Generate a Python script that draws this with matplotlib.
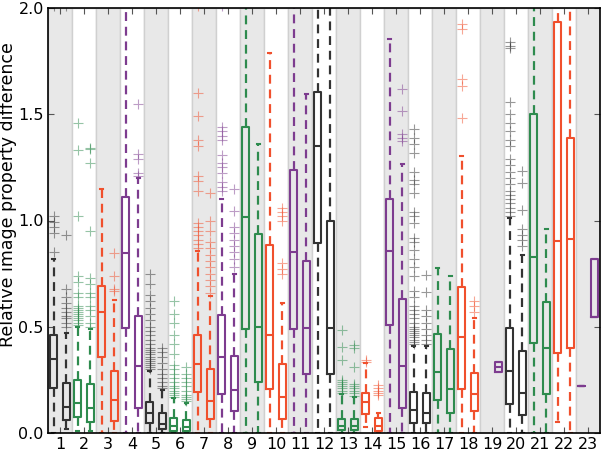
import matplotlib
matplotlib.use('Agg')
import matplotlib.pyplot as plt

# ── data ───────────────────────────────────────────────────────────────────
groups = list(range(1, 24))
group_colors = ['#333333', '#2e8b4e', '#f0502d', '#7d3c8f',
                '#333333', '#2e8b4e', '#f0502d', '#7d3c8f',
                '#2e8b4e', '#f0502d', '#7d3c8f', '#333333',
                '#2e8b4e', '#f0502d', '#7d3c8f', '#333333',
                '#2e8b4e', '#f0502d', '#7d3c8f', '#333333',
                '#2e8b4e', '#f0502d', '#7d3c8f']

# first box of each group (left)
lo_a  = [0.0, 0.01, 0.0, 0.0, 0.0, 0.0, 0.0, 0.0, 0.0, 0.0, 0.0, 0.0, 0.0, 0.03, 0.0, 0.0, 0.0, 0.0, None, 0.0, 0.0, 0.05, 0.223]
q1_a  = [0.211, 0.077, 0.357, 0.494, 0.045, 0.011, 0.195, 0.184, 0.489, 0.208, 0.49, 0.895, 0.014, 0.09, 0.509, 0.049, 0.156, 0.208, None, 0.137, 0.423, 0.376, 0.223]
med_a = [0.348, 0.143, 0.568, 0.848, 0.096, 0.032, 0.325, 0.357, 1.016, 0.462, 0.85, 1.35, 0.035, 0.148, 0.855, 0.108, 0.289, 0.451, None, 0.294, 0.827, 0.902, 0.223]
q3_a  = [0.459, 0.25, 0.693, 1.112, 0.148, 0.069, 0.459, 0.557, 1.44, 0.885, 1.24, 1.605, 0.065, 0.187, 1.10, 0.195, 0.467, 0.687, None, 0.494, 1.50, 1.932, 0.223]
hi_a  = [0.82, 0.50, 1.15, 2.3, 0.292, 0.164, 0.855, 1.10, 2.3, 1.786, 2.3, 2.3, 0.184, 0.329, 1.854, 0.41, 0.775, 1.303, None, 1.013, 2.3, 2.3, 0.223]
fl_a = [
    [0.854, 0.94, 0.97, 0.995, 1.02, 2.01],
    [0.51, 0.52, 0.53, 0.54, 0.55, 0.56, 0.57, 0.58, 0.59, 0.60, 0.64, 0.66, 0.71, 0.74, 1.02, 1.33, 1.46],
    [],
    [],
    [0.30, 0.31, 0.32, 0.33, 0.34, 0.35, 0.36, 0.37, 0.38, 0.39, 0.40, 0.42, 0.44, 0.46, 0.48,
     0.50, 0.53, 0.56, 0.59, 0.62, 0.65, 0.70, 0.75],
    [0.17, 0.18, 0.19, 0.20, 0.21, 0.22, 0.24, 0.26, 0.28, 0.30, 0.32, 0.37, 0.42, 0.46, 0.52, 0.56, 0.62],
    [0.87, 0.89, 0.91, 0.93, 0.95, 0.97, 0.99, 1.138, 1.186, 1.21, 1.35, 1.38, 1.49, 1.60, 2.01],
    [1.14, 1.16, 1.18, 1.225, 1.25, 1.27, 1.31, 1.38, 1.40, 1.42, 1.44, 2.01],
    [],
    [],
    [],
    [],
    [0.19, 0.20, 0.21, 0.22, 0.23, 0.24, 0.25, 0.344, 0.407, 0.486],
    [0.335, 0.342],
    [],
    [0.42, 0.43, 0.44, 0.45, 0.46, 0.47, 0.48, 0.49, 0.50, 0.52, 0.54, 0.56, 0.58, 0.60, 0.64,
     0.67, 0.74, 0.78, 0.82, 0.86, 0.90, 0.92, 0.99, 1.02, 1.04, 1.13, 1.17, 1.19, 1.23, 1.32,
     1.36, 1.39, 1.43],
    [],
    [1.484, 1.634, 1.665, 1.90, 1.925],
    [],
    [1.02, 1.04, 1.06, 1.08, 1.10, 1.12, 1.14, 1.17, 1.20, 1.23, 1.26, 1.29, 1.35, 1.38, 1.42,
     1.46, 1.50, 1.56, 1.81, 1.82, 1.84],
    [],
    [],
    [],
]

# second box of each group (right)
lo_b  = [0.02, 0.01, 0.0, 0.0, 0.0, 0.0, 0.0, 0.0, 0.0, 0.0, 0.0, 0.0, 0.0, 0.0, 0.0, 0.0, 0.0, 0.0, 0.289, 0.0, 0.0, 0.0, 0.546]
q1_b  = [0.061, 0.053, 0.058, 0.116, 0.017, 0.01, 0.065, 0.104, 0.239, 0.065, 0.277, 0.278, 0.014, 0.011, 0.116, 0.049, 0.096, 0.104, 0.289, 0.085, 0.184, 0.40, 0.546]
med_b = [0.121, 0.116, 0.156, 0.316, 0.042, 0.03, 0.151, 0.203, 0.499, 0.168, 0.494, 0.494, 0.035, 0.035, 0.313, 0.096, 0.206, 0.182, 0.31, 0.19, 0.40, 0.913, 0.546]
q3_b  = [0.234, 0.23, 0.29, 0.552, 0.093, 0.061, 0.30, 0.363, 0.937, 0.325, 0.808, 0.997, 0.068, 0.072, 0.63, 0.187, 0.395, 0.281, 0.336, 0.388, 0.615, 1.39, 0.82]
hi_b  = [0.47, 0.49, 0.627, 1.20, 0.203, 0.143, 0.643, 0.748, 1.358, 0.612, 1.594, 2.3, 0.17, 0.096, 1.267, 0.41, 0.74, 0.541, 0.336, 0.84, 0.958, 2.3, 0.82]
fl_b = [
    [0.50, 0.52, 0.54, 0.55, 0.57, 0.59, 0.61, 0.64, 0.68, 0.93, 2.01],
    [0.50, 0.52, 0.55, 0.58, 0.60, 0.64, 0.66, 0.70, 0.73, 0.95, 1.27, 1.335, 1.34],
    [0.667, 0.68, 0.737, 0.848],
    [1.21, 1.225, 1.288, 1.311, 1.547],
    [0.21, 0.22, 0.24, 0.26, 0.28, 0.30, 0.33, 0.36, 0.38, 0.40],
    [0.15, 0.16, 0.17, 0.18, 0.20, 0.22, 0.24, 0.26, 0.28, 0.31],
    [0.66, 0.69, 0.72, 0.75, 0.78, 0.81, 0.84, 0.87, 0.90, 0.95, 1.0, 1.13],
    [0.78, 0.82, 0.85, 0.88, 0.91, 0.94, 0.97, 1.047, 1.146],
    [],
    [0.75, 0.77, 0.80, 0.997, 1.02, 1.04, 1.06],
    [],
    [],
    [0.175, 0.19, 0.20, 0.21, 0.22, 0.23, 0.31, 0.40, 0.415],
    [0.18, 0.19, 0.20, 0.21, 0.226],
    [1.374, 1.39, 1.406, 1.516, 1.618],
    [0.42, 0.44, 0.46, 0.49, 0.52, 0.55, 0.58, 0.665, 0.745],
    [],
    [0.57, 0.60, 0.62],
    [],
    [0.88, 0.91, 0.93, 0.96, 1.05, 1.175, 1.233],
    [],
    [],
    [],
]

yticks = [0.0, 0.5, 1.0, 1.5, 2.0]

# ── figure ─────────────────────────────────────────────────────────────────
fig = plt.figure(figsize=(6.01, 4.51), dpi=100)
ax = fig.add_axes([48/601, 18/451, 552/601, 425/451])

# alternating background stripes
for g in groups:
    ax.axvspan(g - 0.5, g + 0.5, facecolor='#e8e8e8' if g % 2 else 'white',
               edgecolor='#d0d0d0', linewidth=1, zorder=0)

offset, width = 0.27, 0.28


def draw(stats, pos, color):
    ax.bxp([stats], positions=[pos], widths=width, manage_ticks=False,
           boxprops=dict(color=color, linewidth=1.5),
           medianprops=dict(color=color, linewidth=1.5),
           whiskerprops=dict(color=color, linewidth=1.6, linestyle=(0, (4, 2.6))),
           capprops=dict(color=color, linewidth=1.5),
           flierprops=dict(marker='+', markeredgecolor=color, markersize=7,
                           markeredgewidth=0.8, alpha=0.5, linestyle='none'))


for i, g in enumerate(groups):
    c = group_colors[i]
    if q1_a[i] is not None:
        draw(dict(whislo=lo_a[i], q1=q1_a[i], med=med_a[i], q3=q3_a[i],
                  whishi=hi_a[i], fliers=fl_a[i]), g - offset, c)
    if q1_b[i] is not None:
        draw(dict(whislo=lo_b[i], q1=q1_b[i], med=med_b[i], q3=q3_b[i],
                  whishi=hi_b[i], fliers=fl_b[i]), g + offset, c)

ax.set_xlim(0.5, 23.5)
ax.set_ylim(0, 2.0)
ax.set_xticks(groups)
ax.set_xticklabels([str(g) for g in groups], fontsize=11.5)
ax.set_yticks(yticks)
ax.set_yticklabels([f'{v:.1f}' for v in yticks], fontsize=11.5)
ax.tick_params(direction='in', top=True, right=True, length=4, width=0.8,
               color='#555555', pad=3)
ax.set_ylabel('Relative image property difference', fontsize=12.5)
ax.yaxis.set_label_coords(-0.056, 0.56)
for s in ax.spines.values():
    s.set_linewidth(1.2)
    s.set_zorder(5)

plt.savefig('out.png', dpi=100)
